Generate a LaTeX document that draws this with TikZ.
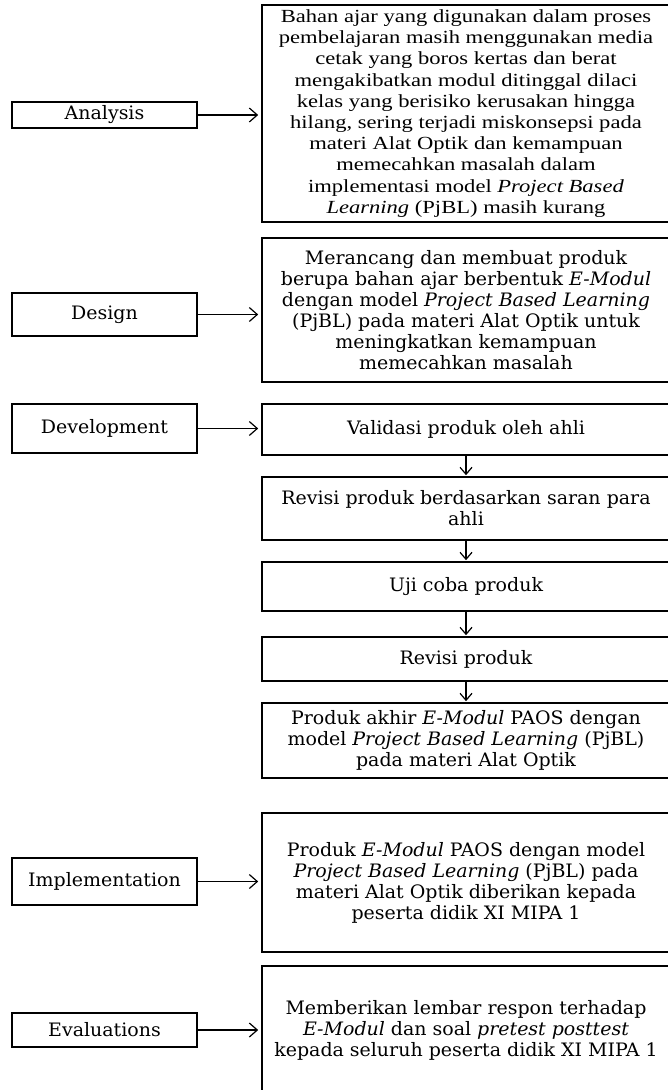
\documentclass[tikz,border=0pt]{standalone}
\usepackage{fontspec}
\newfontfamily\timesfont[FakeStretch=1.22]{Liberation Serif}
\newfontfamily\cambriafont[FakeStretch=1.14]{DejaVu Serif Condensed}
\usetikzlibrary{arrows.meta}

\tikzset{
  stage/.style={draw,line width=1.6pt,minimum width=185pt,inner sep=0pt,
    font=\cambriafont\fontsize{18.5}{21}\selectfont},
  detail/.style={draw,line width=1.6pt,minimum width=408pt,inner sep=0pt,align=center,
    font=\cambriafont\fontsize{18.5}{21}\selectfont},
  flow/.style={-{Straight Barb[length=8pt,width=14pt]},line width=1.2pt,shorten >=3pt},
  down/.style={-{Straight Barb[length=7pt,width=12pt]},line width=1.2pt,shorten >=1pt},
}

\begin{document}
\begin{tikzpicture}[x=1pt,y=-1pt]
\useasboundingbox (0,0) rectangle (667,1090);

% left column: stages
\node[stage,minimum height=26pt] (analysis) at (104.5,115) {Analysis};
\node[stage,minimum height=43pt] (design) at (104.5,314.5) {Design};
\node[stage,minimum height=49pt] (development) at (104.5,428.5) {Development};
\node[stage,minimum height=47pt] (implementation) at (104.5,881.5) {Implementation};
\node[stage,minimum height=34pt] (evaluation) at (104.5,1030) {Evaluations};

% right column
\node[detail,minimum height=217pt,font=\timesfont\fontsize{18.5}{21.2}\selectfont] (anadetail) at (466,113.5)
  {Bahan ajar yang digunakan dalam proses\\
   pembelajaran masih menggunakan media\\
   cetak yang boros kertas dan berat\\
   mengakibatkan modul ditinggal dilaci\\
   kelas yang berisiko kerusakan hingga\\
   hilang, sering terjadi miskonsepsi pada\\
   materi Alat Optik dan kemampuan\\
   memecahkan masalah dalam\\
   implementasi model \textit{Project Based}\\
   \textit{Learning} (PjBL) masih kurang};
\node[detail,minimum height=144pt] (desdetail) at (466,310)
  {Merancang dan membuat produk\\
   berupa bahan ajar berbentuk \textit{E-Modul}\\
   dengan model \textit{Project Based Learning}\\
   (PjBL) pada materi Alat Optik untuk\\
   meningkatkan kemampuan\\
   memecahkan masalah};
\node[detail,minimum height=51pt] (validasi) at (466,429.5) {Validasi produk oleh ahli};
\node[detail,minimum height=63pt] (revisisaran) at (466,508.5) {Revisi produk berdasarkan saran para\\ ahli};
\node[detail,minimum height=49pt] (ujicoba) at (466,586.5) {Uji coba produk};
\node[detail,minimum height=44pt] (revisi) at (466,659) {Revisi produk};
\node[detail,minimum height=75pt] (akhir) at (466,740.5)
  {Produk akhir \textit{E-Modul} PAOS dengan\\
   model \textit{Project Based Learning} (PjBL)\\
   pada materi Alat Optik};
\node[detail,minimum height=139pt] (impdetail) at (466,882.5)
  {Produk \textit{E-Modul} PAOS dengan model\\
   \textit{Project Based Learning} (PjBL) pada\\
   materi Alat Optik diberikan kepada\\
   peserta didik XI MIPA 1};
\node[detail,minimum height=128pt] (evadetail) at (466,1030)
  {Memberikan lembar respon terhadap\\
   \textit{E-Modul} dan soal \textit{pretest posttest}\\
   kepada seluruh peserta didik XI MIPA 1};

% arrows
\draw[flow] (analysis.east) -- (analysis.east -| anadetail.west);
\draw[flow] (design.east) -- (design.east -| desdetail.west);
\draw[flow] (development.east) -- (development.east -| validasi.west);
\draw[flow] (implementation.east) -- (implementation.east -| impdetail.west);
\draw[flow] (evaluation.east) -- (evaluation.east -| evadetail.west);

\draw[down] (validasi) -- (revisisaran);
\draw[down] (revisisaran) -- (ujicoba);
\draw[down] (ujicoba) -- (revisi);
\draw[down] (revisi) -- (akhir);
\end{tikzpicture}
\end{document}
